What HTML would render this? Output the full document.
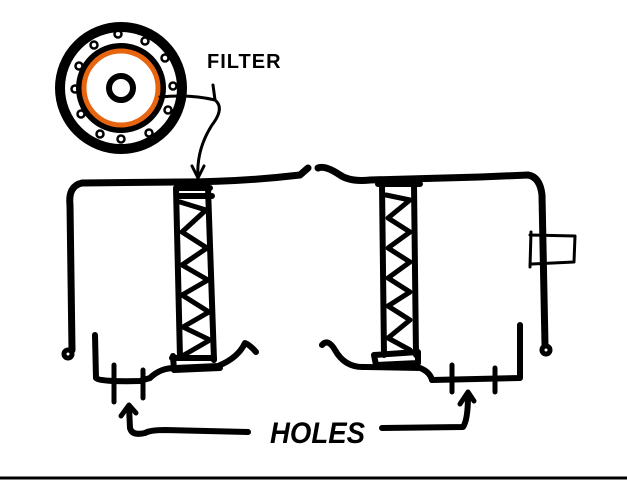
<!DOCTYPE html>
<html><head><meta charset="utf-8"><style>
html,body{margin:0;padding:0;background:#fff;width:627px;height:483px;overflow:hidden}
svg{display:block}
</style></head><body>
<svg width="627" height="483" viewBox="0 0 627 483" xmlns="http://www.w3.org/2000/svg">
<g fill="none" stroke="#000" stroke-linecap="round" stroke-linejoin="round">
<circle cx="121" cy="88" r="61" stroke-width="10"/>
<circle cx="121" cy="88" r="42" stroke-width="6"/>
<circle cx="121" cy="88" r="37" stroke="#e8650f" stroke-width="5"/>
<circle cx="121" cy="88" r="12" stroke-width="6"/>
<g stroke-width="2.5">
<circle cx="118" cy="34" r="3.5"/><circle cx="145" cy="41" r="3.5"/><circle cx="165" cy="58" r="3.5"/>
<circle cx="173" cy="86" r="3.5"/><circle cx="168" cy="110" r="3.5"/><circle cx="149" cy="133" r="3.5"/>
<circle cx="121" cy="139" r="3.5"/><circle cx="100" cy="134" r="3.5"/><circle cx="81" cy="114" r="3.5"/>
<circle cx="75" cy="89" r="3.5"/><circle cx="79" cy="66" r="3.5"/><circle cx="94" cy="45" r="3.5"/>
</g>
<path d="M160 97 Q190 94 215 100 Q225 108 212 125 Q196 150 198 178" stroke-width="3"/>
<path d="M213 85 L215 100" stroke-width="3"/>
<path d="M192 166 L198 178 L204 166" stroke-width="3"/>
<path d="M308 168 L300 175 Q240 182 180 182 L82 183 Q68 186 70 205 L72 350" stroke-width="7"/>
<circle cx="68" cy="354" r="4" stroke-width="5"/>
<path d="M176 188 L180 358 M208 188 L214 360 M176 188 L210 188 M178 196 L212 196" stroke-width="6"/>
<path d="M180 202 L206 210 L182 232 L207 248 L182 265 L208 280 L182 295 L209 312 L183 327 L210 340 L184 355" stroke-width="5"/>
<path d="M173 356 L174 370 L220 368 M172 358 L214 358" stroke-width="6"/>
<path d="M95 335 L96 378 Q100 382 140 381 L150 378 Q160 368 175 368 L218 366 Q238 358 245 343 Q250 345 256 352" stroke-width="6"/>
<path d="M114 365 L114 402 M143 370 L143 398" stroke-width="5"/>
<path d="M248 432 L165 430 Q150 430 145 433 Q132 436 130 428 L129 407" stroke-width="6"/>
<path d="M121 416 L129 405 L136 413" stroke-width="5"/>
<path d="M382 428 L463 427 Q468 420 468 395" stroke-width="6"/>
<path d="M460 404 L468 392 L474 401" stroke-width="5"/>
<path d="M318 168 Q325 165 340 175 Q350 182 370 180 L480 177 L528 175 Q540 177 542 195 L545 345" stroke-width="7"/>
<circle cx="546" cy="350" r="4" stroke-width="5"/>
<path d="M382 185 L384 355 M414 185 L416 355 M378 184 L420 184" stroke-width="6"/>
<path d="M386 195 L410 200 L388 218 L410 232 L388 248 L410 262 L388 278 L410 292 L388 306 L410 320 L388 338 L410 350" stroke-width="5"/>
<path d="M374 355 L376 365 L418 363 L418 352 Z" stroke-width="6"/>
<path d="M322 345 Q328 338 335 350 Q345 368 365 367 L420 368 Q430 372 432 380 L520 378 L520 325" stroke-width="6"/>
<path d="M452 365 L452 392 M495 368 L495 392" stroke-width="5"/>
<path d="M530 235 L575 236 L574 262 L532 264 M531 232 L530 267" stroke-width="3"/>
<line x1="0" y1="478" x2="627" y2="478" stroke-width="3" stroke-linecap="butt"/>
</g>
<text x="207" y="68" font-family="Liberation Sans, sans-serif" font-size="20" font-weight="bold" letter-spacing="1" fill="#000">FILTER</text>
<text x="270" y="443" font-family="Liberation Sans, sans-serif" font-size="30" font-weight="bold" font-style="italic" textLength="95" lengthAdjust="spacingAndGlyphs" fill="#000">HOLES</text>
</svg>
</body></html>
